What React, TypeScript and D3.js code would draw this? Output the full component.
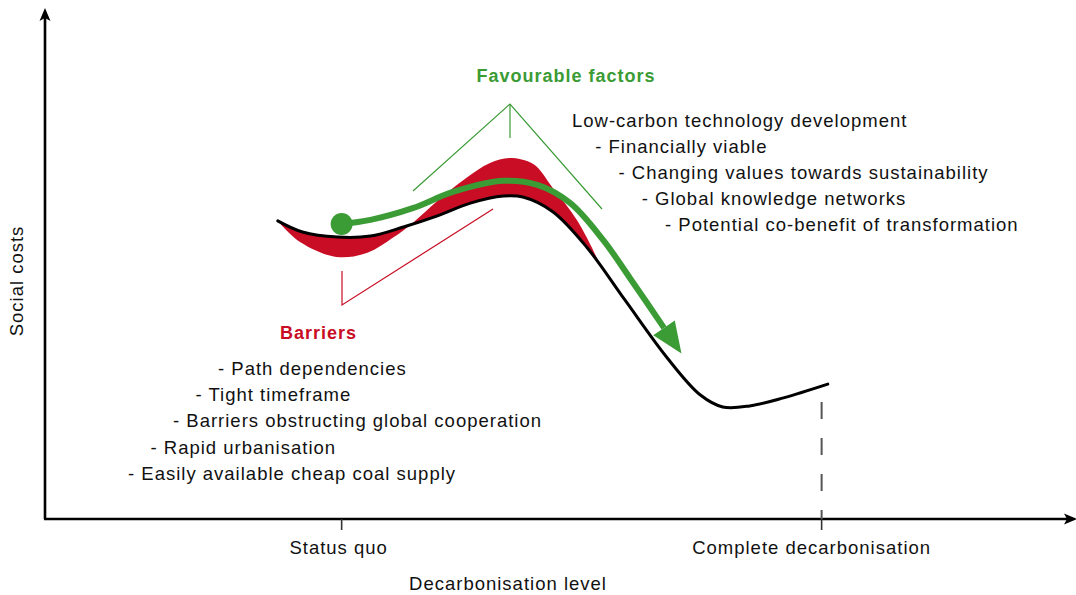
import React from "react";
import * as d3 from "d3";

// Conceptual data (x: decarbonisation level 0-100, y: social costs 0-100)
const blackX = [22.6, 25.0, 28.4, 31.6, 34.8, 38.1, 41.3, 44.5, 46.4, 49.3, 52.6, 56.3, 60.4, 63.6, 65.8, 68.4, 71.7, 76.0];
const blackY = [58.8, 56.6, 55.6, 55.8, 57.6, 59.8, 62.3, 63.7, 63.5, 60.6, 53.6, 43.2, 31.8, 24.5, 22.1, 22.3, 23.9, 26.6];

const redX = [22.6, 24.8, 28.3, 31.3, 33.8, 35.7, 38.3, 40.8, 43.2, 45.1, 47.4, 49.3, 51.7, 53.7];
const redY = [58.8, 54.6, 51.7, 52.5, 55.5, 58.4, 63.1, 67.1, 70.2, 71.2, 70.0, 65.3, 58.8, 50.7];

const greenX = [28.8, 31.6, 35.7, 39.6, 44.5, 47.8, 51.0, 54.2, 56.8, 60.1];
const greenY = [58.2, 59.0, 61.3, 64.5, 66.7, 65.9, 62.3, 55.0, 47.5, 37.7];

const tickValues = [28.8, 75.4];
const tickLabels = ["Status quo", "Complete decarbonisation"];
const endCost = 23.1; // top of dashed guide at complete decarbonisation

const favourableTitle = "Favourable factors";
const favourableItems = [
  "Low-carbon technology development",
  "- Financially viable",
  "- Changing values towards sustainability",
  "- Global knowledge networks",
  "- Potential co-benefit of transformation",
];
const barriersTitle = "Barriers";
const barrierItems = [
  "- Path dependencies",
  "- Tight timeframe",
  "- Barriers obstructing global cooperation",
  "- Rapid urbanisation",
  "- Easily available cheap coal supply",
];

const W = 1076;
const H = 595;
const RED = "#c80d24";
const GREEN = "#3b9b35";
const FONT = "'Liberation Sans', Arial, Helvetica, sans-serif";

export default function App() {
  const x = d3.scaleLinear().domain([0, 100]).range([45, 1075]);
  const y = d3.scaleLinear().domain([0, 100]).range([519, 12]);

  const black = blackX.map((v, i) => [v, blackY[i]] as [number, number]);
  const red = redX.map((v, i) => [v, redY[i]] as [number, number]);
  const green = greenX.map((v, i) => [v, greenY[i]] as [number, number]);

  const line = d3
    .line<[number, number]>()
    .x((d) => x(d[0]))
    .y((d) => y(d[1]))
    .curve(d3.curveCatmullRom.alpha(0.5));

  const redEnd = redX[redX.length - 1];
  const blackBack = black.filter((d) => d[0] < redEnd).reverse();
  const redShape = line([...red, ...blackBack]) + "Z";

  const x0 = x(0);
  const yb = y(0);
  const textStyle: React.CSSProperties = { fontFamily: FONT, fontSize: 18.5, letterSpacing: 1.0 };

  // bracket geometry (annotation lines)
  const favApex: [number, number] = [510, 104];
  const barApex: [number, number] = [342, 305];

  return (
    <svg width={W} height={H} style={{ position: "absolute", left: 0, top: 0, background: "#fff" }}>
      <defs>
        <marker id="garrow" markerUnits="userSpaceOnUse" markerWidth={40} markerHeight={40} refX={0} refY={0} viewBox="-2 -16 40 32" orient="auto">
          <path d="M0,-13 L31,0 L0,13 Z" fill={GREEN} />
        </marker>
      </defs>

      {/* axes */}
      <line x1={x0} y1={yb} x2={x0} y2={16} stroke="#000" strokeWidth={2.6} />
      <path d={`M${x0},8 L${x0 - 5.5},21 L${x0},18 L${x0 + 5.5},21 Z`} fill="#000" />
      <line x1={x0 - 1} y1={yb} x2={1070} y2={yb} stroke="#000" strokeWidth={2.6} />
      <path d={`M1077,${yb} L1064,${yb - 5.5} L1067,${yb} L1064,${yb + 5.5} Z`} fill="#000" />

      {/* ticks */}
      {tickValues.map((t, i) => (
        <g key={i}>
          <line x1={x(t)} x2={x(t)} y1={yb} y2={yb + 11} stroke="#333" strokeWidth={1.6} />
          <text x={x(t) + (i === 0 ? -3 : -10)} y={554} textAnchor="middle" style={textStyle} fill="#111">
            {tickLabels[i]}
          </text>
        </g>
      ))}

      {/* dashed guide */}
      <line x1={x(tickValues[1])} x2={x(tickValues[1])} y1={y(endCost)} y2={yb} stroke="#555" strokeWidth={2} strokeDasharray="17,19" />

      {/* axis titles */}
      <text x={508} y={590} textAnchor="middle" style={textStyle} fill="#111">Decarbonisation level</text>
      <text transform="translate(23,281) rotate(-90)" textAnchor="middle" style={textStyle} fill="#111">Social costs</text>

      {/* red area between alternative and baseline curves */}
      <path d={redShape} fill={RED} stroke="none" />
      {/* baseline curve */}
      <path d={line(black) || ""} fill="none" stroke="#000" strokeWidth={3} strokeLinecap="round" />

      {/* green path */}
      <path d={line(green) || ""} fill="none" stroke={GREEN} strokeWidth={6} markerEnd="url(#garrow)" />
      <circle cx={x(greenX[0])} cy={y(greenY[0])} r={11} fill={GREEN} />

      {/* favourable bracket */}
      <polyline points={`413,191 ${favApex[0]},${favApex[1]} 602,209`} fill="none" stroke={GREEN} strokeWidth={1.2} />
      <line x1={favApex[0]} y1={favApex[1]} x2={favApex[0]} y2={138} stroke={GREEN} strokeWidth={1.2} />

      {/* barriers bracket */}
      <polyline points={`342,271 ${barApex[0]},${barApex[1]} 493,209`} fill="none" stroke={RED} strokeWidth={1.2} />

      {/* titles */}
      <text x={566} y={82} textAnchor="middle" style={{ ...textStyle, fontWeight: 700, fontSize: 18 }} fill={GREEN}>{favourableTitle}</text>
      <text x={280} y={339} style={{ ...textStyle, fontWeight: 700, fontSize: 18 }} fill={RED}>{barriersTitle}</text>

      {favourableItems.map((s, i) => (
        <text key={s} x={572 + 23.25 * i} y={127 + 26 * i} style={textStyle} fill="#111">{s}</text>
      ))}
      {barrierItems.map((s, i) => (
        <text key={s} x={218 - 22.5 * i} y={375 + 26.2 * i} style={textStyle} fill="#111">{s}</text>
      ))}
    </svg>
  );
}
